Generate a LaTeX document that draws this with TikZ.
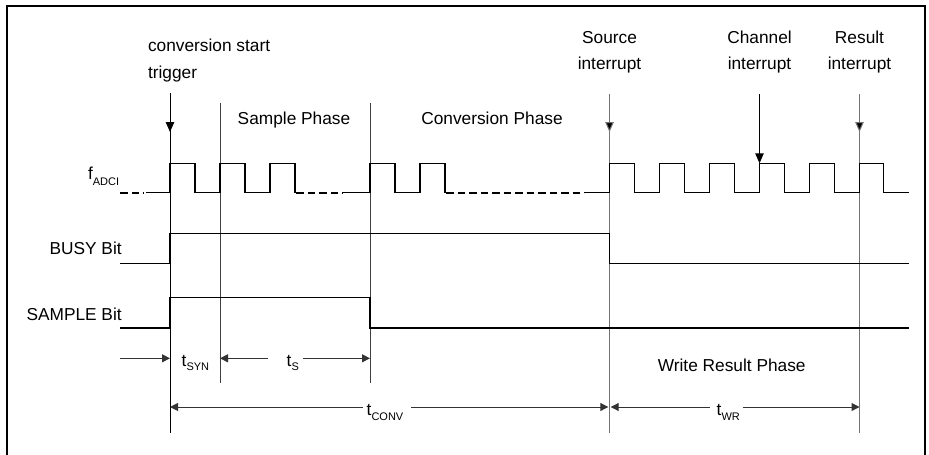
\documentclass[tikz,border=0pt]{standalone}
\usepackage{fontspec}
\setmainfont{Liberation Sans}
\usetikzlibrary{arrows.meta}
\newcommand\subx[2][4.5pt]{\raisebox{-#1}{\fontsize{11}{12}\selectfont #2}}
\begin{document}
\begin{tikzpicture}[x=1pt,y=-1pt,
  every node/.style={font=\fontsize{17.3}{20}\selectfont, inner sep=0pt, outer sep=0pt},
  frame/.style={line width=2.6pt},
  sig/.style={line width=1.8pt, line join=miter},
  clk/.style={line width=1.3pt, line join=miter},
  dashsig/.style={line width=2.4pt, dash pattern=on 7.5pt off 4pt},
  refblack/.style={line width=1pt, black},
  refdark/.style={line width=1pt, black!75},
  refgray/.style={line width=1pt, black!55},
  dim/.style={line width=1pt, black!80},
  tiph/.style={-{Triangle[length=8pt,width=8pt]}},
  tipv/.style={line width=1pt, -{Triangle[length=10pt,width=8.5pt]}}]
\useasboundingbox (0,0) rectangle (929,455);
% frame
\draw[frame] (7,455) -- (7,6) -- (925,6) -- (925,455);

% top labels
\node[anchor=base west] (trigA) at (148,51.7) {conversion start};
\node[anchor=base west] (trigB) at (148,78.3) {trigger};
\node[anchor=base] (samp) at (294,124) {Sample Phase};
\node[anchor=base] (conv) at (492,124.5) {Conversion Phase};
\node[anchor=base] (srcA) at (609.5,43) {Source};
\node[anchor=base] (srcB) at (609.5,69.5) {interrupt};
\node[anchor=base] (chA) at (759.5,43) {Channel};
\node[anchor=base] (chB) at (759.5,69.5) {interrupt};
\node[anchor=base] (resA) at (859.5,43) {Result};
\node[anchor=base] (resB) at (859.5,69.5) {interrupt};

% signal labels
\node[anchor=base west] (fadc) at (88,179.3) {f\subx[6.5pt]{ADCI}};
\node[anchor=base east] (busy) at (121.7,254) {BUSY Bit};
\node[anchor=base east] (sampb) at (121.7,320) {SAMPLE Bit};
\node[anchor=base] (wrp) at (731.7,371.7) {Write Result Phase};

% vertical reference lines
\coordinate (trTop) at (170,93);   \coordinate (trArr) at (170,132);  \coordinate (trBot) at (170,432.7);
\coordinate (s1Top) at (220,103);  \coordinate (s1Bot) at (220,383);
\coordinate (s2Top) at (370,103);  \coordinate (s2Bot) at (370,383);
\coordinate (srcTop) at (609.5,94); \coordinate (srcArr) at (609.5,132); \coordinate (srcBot) at (609.5,432.7);
\coordinate (resTop) at (859.5,94); \coordinate (resArr) at (859.5,132); \coordinate (resBot) at (859.5,432.7);
\coordinate (chTop) at (759.5,94);  \coordinate (chTip) at (759.5,163.3);

\draw[refblack] (trTop) -- (trBot);
\draw[refdark] (s1Top) -- (s1Bot);
\draw[refdark] (s2Top) -- (s2Bot);
\draw[refgray] (srcTop) -- (srcBot);
\draw[refgray] (resTop) -- (resBot);
\draw[tipv] (trTop) -- (trArr);
\draw[refgray, -{Triangle[length=10pt,width=8.5pt,fill=black]}] (srcTop) -- (srcArr);
\draw[refgray, -{Triangle[length=10pt,width=8.5pt,fill=black]}] (resTop) -- (resArr);
\draw[tipv] (chTop) -- (chTip);

% clock
\draw[dashsig] (120,192.7) -- (144,192.7);
\draw[clk] (146,192.7) -- (170,192.7) -- (170,163.3) -- (195,163.3) -- (195,192.7)
  -- (220,192.7) -- (220,163.3) -- (245,163.3) -- (245,192.7)
  -- (270,192.7) -- (270,163.3) -- (295,163.3) -- (295,192.7);
\draw[dashsig] (296,192.7) -- (343,192.7);
\draw[clk] (343,192.7) -- (370,192.7) -- (370,163.3) -- (395,163.3) -- (395,192.7)
  -- (420,192.7) -- (420,163.3) -- (445,163.3) -- (445,192.7);
\draw[dashsig] (446,192.7) -- (584,192.7);
\draw[clk] (584,192.7) -- (609.5,192.7)
  -- (609.5,163.3) -- (634.5,163.3) -- (634.5,192.7) -- (659.5,192.7)
  -- (659.5,163.3) -- (684.5,163.3) -- (684.5,192.7) -- (709.5,192.7)
  -- (709.5,163.3) -- (734.5,163.3) -- (734.5,192.7) -- (759.5,192.7)
  -- (759.5,163.3) -- (784.5,163.3) -- (784.5,192.7) -- (809.5,192.7)
  -- (809.5,163.3) -- (834.5,163.3) -- (834.5,192.7) -- (859.5,192.7)
  -- (859.5,163.3) -- (883.5,163.3) -- (883.5,192.7) -- (908.5,192.7);

% BUSY and SAMPLE
\draw[sig] (120,263.5) -- (170,263.5) -- (170,233.5) -- (609.5,233.5) -- (609.5,263.5) -- (909,263.5);
\draw[sig] (120,328) -- (170,328) -- (170,297.5) -- (370,297.5) -- (370,328) -- (909,328);

% dimension row 1
\coordinate (synL) at (120,358.3);
\draw[dim,tiph] (synL) -- (synL -| trTop);
\node[anchor=base west] (tsyn) at (181.7,366) {t\subx{SYN}};
\node[anchor=base west] (ts) at (286.7,366) {t\subx{S}};
\coordinate (sL) at (268,358.3); \coordinate (sR) at (303,358.3);
\draw[dim,tiph] (sL) -- (sL -| s1Top);
\draw[dim,tiph] (sR) -- (sR -| s2Top);

% dimension row 2
\node[anchor=base west] (tconv) at (366.7,415.5) {t\subx{CONV}};
\node[anchor=base west] (twr) at (716.7,415.5) {t\subx{WR}};
\coordinate (cL) at (362.7,407); \coordinate (cR) at (411,407);
\coordinate (cEnd) at (608.3,407);
\coordinate (wL) at (710,407); \coordinate (wR) at (742.7,407);
\coordinate (wStart) at (610.7,407);
\draw[dim,tiph] (cL) -- (cL -| trTop);
\draw[dim,tiph] (cR) -- (cEnd);
\draw[dim,tiph] (wL) -- (wStart);
\draw[dim,tiph] (wR) -- (wR -| resTop);
\end{tikzpicture}
\end{document}
